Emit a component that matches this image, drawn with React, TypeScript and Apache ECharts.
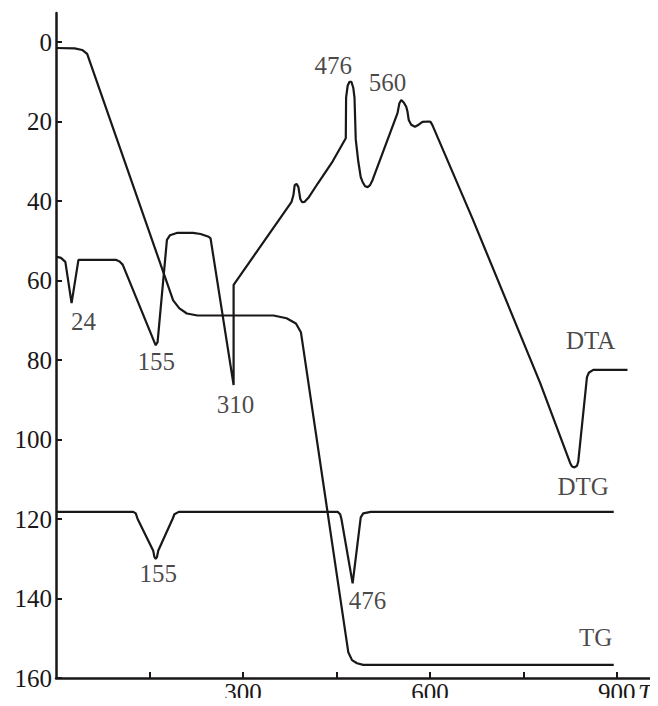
import React, { useEffect, useRef } from "react";
import * as echarts from "echarts";

// TG curve (temperature, value)
const tgData: number[][] = [
  [0, 1.5], [30, 1.6], [42, 2], [50, 3], [188, 65], [198, 67], [210, 68.3], [227, 68.8],
  [349, 68.8], [370, 69.5], [385, 70.8], [393, 73], [469, 153.5], [475, 155.5], [483, 156.3],
  [493, 156.7], [895, 156.7],
];

// DTA curve
const dtaData: number[][] = [
  [0, 54], [8, 54.3], [15, 55.3], [25, 65.7], [36, 54.8], [96, 54.8], [102, 55.2], [107, 56],
  [160, 76.3], [163, 75.5], [178, 49.8], [183, 48.6], [195, 48], [220, 48], [232, 48.3],
  [245, 49], [248, 49.4], [285, 86.3], [285, 61.1], [378, 40.2], [381, 38.5], [383, 36],
  [386, 35.7], [389, 36.5], [392, 39.5], [395, 40.3], [399, 40.2], [405, 39.2], [420, 35.6],
  [444, 30], [465, 24.2], [465.5, 14], [468, 11], [471, 10], [474, 10], [477, 11.5], [479, 14],
  [481, 24.5], [485, 30], [489, 34], [492, 35.2], [496, 36.3], [500, 36.5], [504, 36],
  [508, 34.7], [548, 17.9], [551, 15.4], [554, 14.6], [558, 15.2], [562, 16.3], [564, 17.5],
  [566, 19.6], [570, 20.8], [576, 21.3], [582, 20.8], [588, 20.1], [598, 20], [601, 20.1],
  [604, 20.9], [668, 44.3], [777, 85.8], [825, 105.9], [828, 106.8], [832, 107], [836, 106.6],
  [838, 105.6], [852, 84.3], [855, 83.2], [862, 82.5], [917, 82.5],
];

// DTG curve
const dtgData: number[][] = [
  [0, 118.2], [124, 118.2], [128, 118.6], [131, 120], [156, 128], [158, 129.6], [160, 130],
  [162, 129.6], [164, 128], [187, 120], [190, 118.8], [197, 118.2], [452, 118.2], [456, 118.8],
  [458, 120], [476, 136.2], [489, 119.6], [493, 118.6], [505, 118.2], [895, 118.2],
];

// annotation texts and their data positions
const annotTexts: string[] = ["476", "560", "24", "155", "310", "DTA", "DTG", "155", "476", "TG"];
const annotX: number[] = [445, 532, 44, 161, 288, 858, 846, 164, 500, 866];
const annotY: number[] = [6.0, 10.1, 70.2, 80.3, 91.1, 75.2, 111.7, 133.8, 140.6, 149.7];

const xTicks: number[] = [150, 300, 450, 600, 750, 900];
const xLabels: number[] = [300, 600, 900];
const yTicks: number[] = [0, 20, 40, 60, 80, 100, 120, 140, 160];

const FONT = "Liberation Serif";
const INK = "#1a1718";

export default function App() {
  const ref = useRef<HTMLDivElement>(null);
  useEffect(() => {
    if (!ref.current) return;
    const chart = echarts.init(ref.current, undefined, { renderer: "svg" });
    const lineStyle = { color: INK, width: 2.2 };
    chart.setOption({
      animation: false,
      backgroundColor: "#ffffff",
      grid: { left: 56, right: 0, top: 13, bottom: 28, containLabel: false, outerBoundsMode: "none" },
      xAxis: {
        type: "value",
        position: "bottom",
        min: 0,
        max: 966,
        interval: 150,
        axisLine: { show: true, onZero: false, lineStyle: { color: INK, width: 2.5 } },
        axisTick: { show: true, inside: true, length: 6, customValues: xTicks, lineStyle: { color: INK, width: 2 } },
        axisLabel: {
          show: true,
          customValues: xLabels,
          margin: 2,
          lineHeight: 24,
          color: INK,
          fontFamily: FONT,
          fontSize: 25,
          formatter: (v: number) => (v > 0 && v <= 900 && v % 300 === 0 ? String(v) : ""),
        },
        splitLine: { show: false },
      },
      yAxis: {
        type: "value",
        inverse: true,
        min: -7.3,
        max: 160,
        axisLine: { show: true, onZero: false, lineStyle: { color: INK, width: 2.5 } },
        axisTick: { show: true, inside: true, length: 6, customValues: yTicks, lineStyle: { color: INK, width: 2 } },
        axisLabel: {
          show: true,
          customValues: yTicks,
          margin: 4,
          color: INK,
          fontFamily: FONT,
          fontSize: 25,
        },
        splitLine: { show: false },
      },
      series: [
        { type: "line", name: "TG", data: tgData, showSymbol: false, symbol: "none", lineStyle, silent: true },
        { type: "line", name: "DTA", data: dtaData, showSymbol: false, symbol: "none", lineStyle, silent: true },
        { type: "line", name: "DTG", data: dtgData, showSymbol: false, symbol: "none", lineStyle, silent: true },
        {
          type: "scatter",
          name: "labels",
          symbolSize: 0,
          silent: true,
          data: annotTexts.map((t, i) => ({ name: t, value: [annotX[i], annotY[i]] })),
          label: {
            show: true,
            position: "inside",
            formatter: "{b}",
            color: INK,
            fontFamily: FONT,
            fontSize: 25,
          },
        },
      ],
      graphic: [
        {
          type: "text",
          left: 638,
          top: 681,
          style: { text: "T", fill: INK, font: `italic 25px "${FONT}"`, lineHeight: 24 },
        },
      ],
    });
    return () => chart.dispose();
  }, []);
  return <div ref={ref} style={{ width: 658, height: 706, margin: -8 }} />;
}
